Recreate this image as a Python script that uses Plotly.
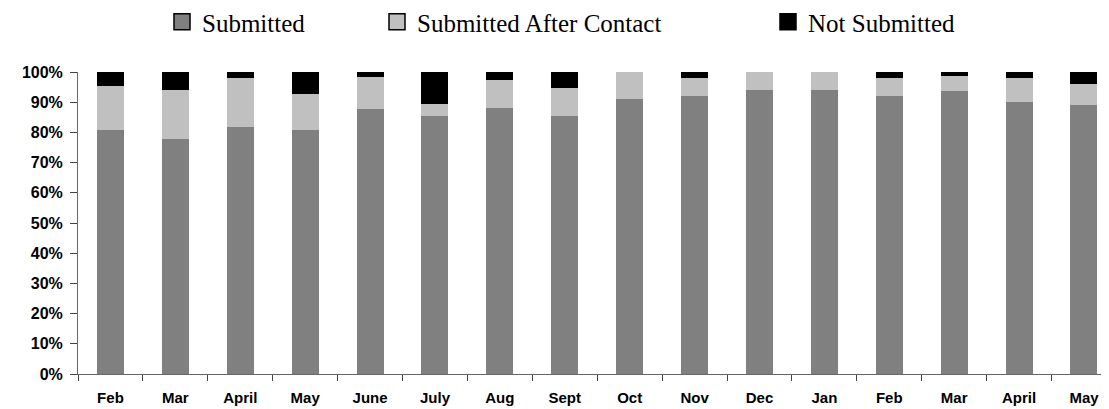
import plotly.graph_objects as go

months = ["Feb", "Mar", "April", "May", "June", "July", "Aug", "Sept",
          "Oct", "Nov", "Dec", "Jan", "Feb", "Mar", "April", "May"]
submitted = [80.8, 77.8, 81.8, 80.8, 87.7, 85.4, 88.1, 85.4,
             91.1, 92.1, 94.0, 94.0, 92.1, 93.7, 90.1, 89.1]
after_contact = [14.6, 16.2, 16.3, 12.0, 10.8, 4.0, 9.3, 9.3,
                 8.9, 5.9, 6.0, 6.0, 5.9, 5.0, 7.9, 6.9]
not_submitted = [4.6, 6.0, 1.9, 7.2, 1.5, 10.6, 2.6, 5.3,
                 0.0, 2.0, 0.0, 0.0, 2.0, 1.3, 2.0, 4.0]
series_names = ["Submitted", "Submitted After Contact", "Not Submitted"]
series_colors = ["#808080", "#c0c0c0", "#000000"]
y_ticks = [0, 10, 20, 30, 40, 50, 60, 70, 80, 90, 100]
y_labels = [f"{v}%" for v in y_ticks]

xpos = list(range(len(months)))
BW = 0.416

# page body has an 8px default margin; size the figure to fit the window
OFF = 8
W, H = 1109 - OFF, 409 - OFF

fig = go.Figure()
for vals, name, col in zip([submitted, after_contact, not_submitted], series_names, series_colors):
    fig.add_trace(go.Bar(x=xpos, y=vals, name=name, width=BW,
                         marker=dict(color=col, line=dict(width=0)),
                         showlegend=False))

legend_ids = ["legend", "legend2", "legend3"]
for name, col, lid in zip(series_names, series_colors, legend_ids):
    fig.add_trace(go.Scatter(x=[None], y=[None], mode="markers", name=name,
                             marker=dict(symbol="square", size=16, color=col,
                                         line=dict(color="#000", width=1.5)),
                             legend=lid, showlegend=True, hoverinfo="skip"))

leg_font = dict(family="Liberation Serif, Times New Roman, serif", size=25, color="#000")
common = dict(orientation="h", xref="container", yref="container", yanchor="middle",
              y=1 - (22 - OFF) / H, xanchor="left", font=leg_font, bgcolor="rgba(0,0,0,0)",
              itemclick=False, itemdoubleclick=False, visible=True)

def lx(text_start_px):
    return (text_start_px - 40 - OFF) / W

fig.update_layout(
    barmode="stack",
    showlegend=True,
    width=W, height=H,
    margin=dict(l=78 - OFF, r=1, t=72 - OFF, b=409 - 374, autoexpand=False),
    paper_bgcolor="white", plot_bgcolor="white",
    legend=dict(x=lx(202), **common),
    legend2=dict(x=lx(417), **common),
    legend3=dict(x=lx(808), **common),
    xaxis=dict(range=[-0.5, 15.37], tickmode="array", tickvals=xpos, ticktext=months,
               ticks="", showline=True, linecolor="#666", linewidth=1,
               showgrid=False, zeroline=False, automargin=False,
               minor=dict(tick0=-0.5, dtick=1, ticks="outside", ticklen=6,
                          tickcolor="#444", showgrid=False),
               tickfont=dict(family="Liberation Sans, Arial, sans-serif", size=15,
                             color="#000", weight="bold"),
               ticklabelstandoff=10),
    yaxis=dict(range=[0, 100], tickmode="array", tickvals=y_ticks, ticktext=y_labels,
               ticks="outside", ticklen=7, tickcolor="#444",
               showline=True, linecolor="#666", linewidth=1,
               showgrid=False, zeroline=False, automargin=False,
               tickfont=dict(family="Liberation Sans, Arial, sans-serif", size=16,
                             color="#000", weight="bold"),
               ticklabelstandoff=4),
)

fig.write_html("out.html")
